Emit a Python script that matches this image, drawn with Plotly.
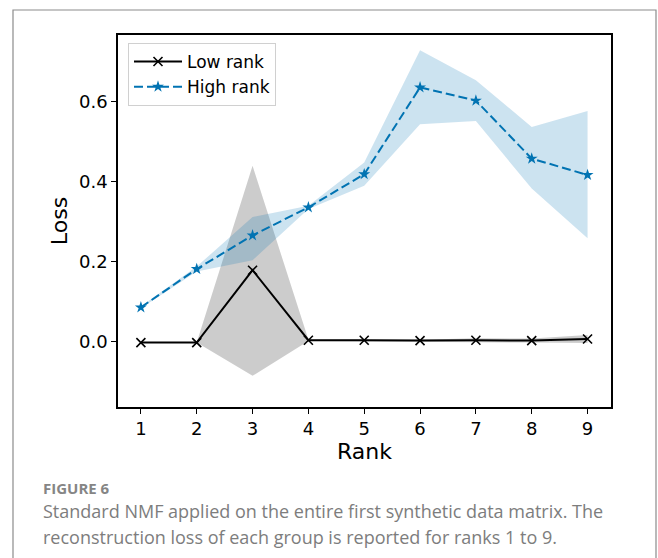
import plotly.graph_objects as go

ranks = [1, 2, 3, 4, 5, 6, 7, 8, 9]

low_mean = [-0.002, -0.002, 0.179, 0.004, 0.004, 0.003, 0.004, 0.003, 0.007]
low_upper = [-0.002, -0.002, 0.440, 0.006, 0.006, 0.005, 0.009, 0.008, 0.017]
low_lower = [-0.002, -0.002, -0.085, 0.002, 0.002, 0.001, -0.001, -0.002, -0.003]

high_mean = [0.086, 0.182, 0.266, 0.336, 0.419, 0.636, 0.603, 0.458, 0.417]
high_upper = [0.088, 0.188, 0.312, 0.340, 0.448, 0.729, 0.654, 0.537, 0.577]
high_lower = [0.084, 0.176, 0.204, 0.332, 0.390, 0.544, 0.552, 0.383, 0.259]

x_ticks = [1, 2, 3, 4, 5, 6, 7, 8, 9]
y_ticks = [0.0, 0.2, 0.4, 0.6]

BLUE = "#0173b2"
FONT = "DejaVu Sans"

fig = go.Figure()

# shaded bands
fig.add_trace(go.Scatter(
    x=ranks + ranks[::-1], y=low_upper + low_lower[::-1],
    fill="toself", fillcolor="rgba(0,0,0,0.2)", line=dict(width=0),
    mode="lines", showlegend=False, hoverinfo="skip"))
fig.add_trace(go.Scatter(
    x=ranks + ranks[::-1], y=high_upper + high_lower[::-1],
    fill="toself", fillcolor="rgba(1,115,178,0.2)", line=dict(width=0),
    mode="lines", showlegend=False, hoverinfo="skip"))

fig.add_trace(go.Scatter(
    x=ranks, y=low_mean, mode="lines+markers", name="Low rank",
    line=dict(color="black", width=2),
    marker=dict(symbol="x-thin", size=9, line=dict(color="black", width=1.6))))
fig.add_trace(go.Scatter(
    x=ranks, y=high_mean, mode="lines+markers", name="High rank",
    line=dict(color=BLUE, width=2, dash="9px,4px"),
    marker=dict(symbol="star", size=9, color=BLUE)))

W, H = 658, 558
L, R, T, B = 118, 611, 35, 407
pw, ph = R - L, B - T

def px(x):
    return (x - L) / pw

def py(y):
    return (B - y) / ph

CAP = "#7d7d7d"

fig.update_layout(
    width=W, height=H,
    margin=dict(l=L, r=W - R, t=T, b=H - B),
    paper_bgcolor="white", plot_bgcolor="white",
    font=dict(family=FONT, size=18, color="black"),
    showlegend=True,
    legend=dict(x=px(128), y=py(43), xanchor="left", yanchor="top",
                bgcolor="rgba(255,255,255,0.8)", bordercolor="#d0d0d0", borderwidth=1,
                font=dict(family=FONT, size=17), tracegroupgap=0, itemwidth=48),
    xaxis=dict(range=[0.59, 9.42], tickvals=x_ticks, ticktext=[str(v) for v in x_ticks],
               showgrid=False, zeroline=False, showline=True, linecolor="black",
               linewidth=1.5, mirror=True, ticks="outside", ticklen=5, tickwidth=1.2,
               tickcolor="black", title=dict(text="Rank", standoff=3),
               tickfont=dict(size=18)),
    yaxis=dict(range=[-0.163, 0.767], tickvals=y_ticks, ticktext=["0.0", "0.2", "0.4", "0.6"],
               showgrid=False, zeroline=False, showline=True, linecolor="black",
               linewidth=1.5, mirror=True, ticks="outside", ticklen=5, tickwidth=1.2,
               tickcolor="black", title=dict(text="Loss", standoff=5),
               tickfont=dict(size=18)),
    shapes=[dict(type="rect", xref="paper", yref="paper",
                 x0=px(13), x1=px(656), y0=py(575), y1=py(10),
                 line=dict(color="#8c8c8c", width=1.2), fillcolor="rgba(0,0,0,0)", layer="below")],
    annotations=[
        dict(text="<b>FIGURE 6</b>", xref="paper", yref="paper", x=px(41), y=py(488),
             xanchor="left", yanchor="middle", showarrow=False,
             font=dict(family="Open Sans", size=15, color="#858585")),
        dict(text="Standard NMF applied on the entire first synthetic data matrix. The",
             xref="paper", yref="paper", x=px(41), y=py(511),
             xanchor="left", yanchor="middle", showarrow=False,
             font=dict(family="Open Sans", size=18, color=CAP)),
        dict(text="reconstruction loss of each group is reported for ranks 1 to 9.",
             xref="paper", yref="paper", x=px(41), y=py(537),
             xanchor="left", yanchor="middle", showarrow=False,
             font=dict(family="Open Sans", size=18, color=CAP)),
    ],
)

fig.write_html("out.html")
